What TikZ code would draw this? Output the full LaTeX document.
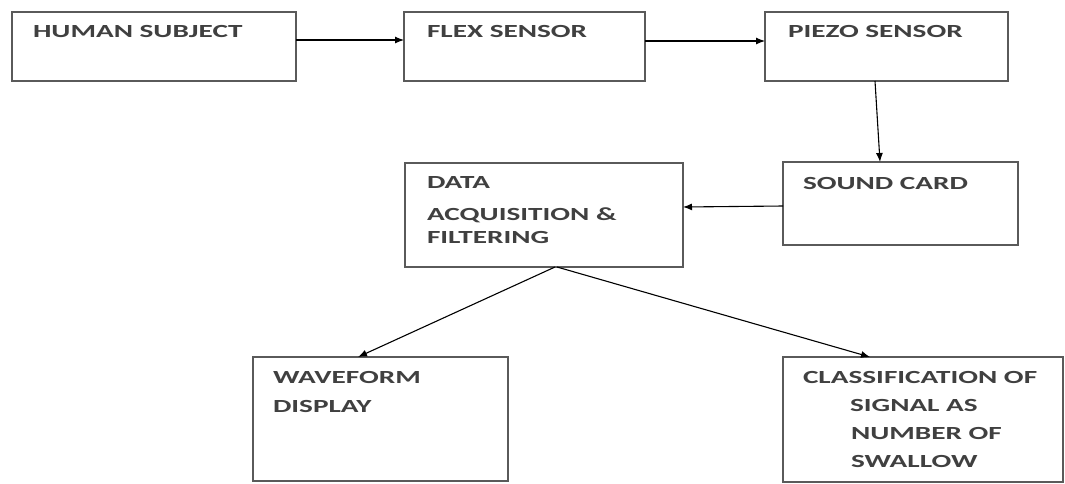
\documentclass[tikz,border=0pt]{standalone}
\usepackage{fontspec}
\setmainfont{Carlito}[FakeStretch=1.58]
\usetikzlibrary{arrows.meta}
\definecolor{boxline}{HTML}{5A5A5A}
\definecolor{txt}{HTML}{404040}
\tikzset{
  blk/.style={draw=boxline, line width=1.5pt, rectangle, inner sep=0pt, outer sep=0pt, fill=white},
  lbl/.style={anchor=base west, inner sep=0pt, outer sep=0pt, text=txt, font=\bfseries\fontsize{18.5}{22}\selectfont},
  arr/.style={draw=black, line width=1.1pt, -{Latex[length=9pt,width=7pt]}}
}
\begin{document}
\begin{tikzpicture}[x=1pt,y=-1pt]
\useasboundingbox (0,0) rectangle (1065,483);
% boxes
\node[blk, minimum width=284pt, minimum height=69pt] (hs) at (154,46.5) {};
\node[blk, minimum width=241pt, minimum height=69pt] (fs) at (524.5,46.5) {};
\node[blk, minimum width=243pt, minimum height=69pt] (pz) at (886.5,46.5) {};
\node[blk, minimum width=235pt, minimum height=83pt] (sc) at (900.5,203.5) {};
\node[blk, minimum width=278pt, minimum height=104pt] (da) at (544,215) {};
\node[blk, minimum width=255pt, minimum height=124pt] (wv) at (380.5,419) {};
\node[blk, minimum width=280pt, minimum height=125pt] (cl) at (923,419.5) {};
% texts
\node[lbl] (ths) at (33,37) {HUMAN SUBJECT};
\node[lbl] (tfs) at (427,37) {FLEX SENSOR};
\node[lbl] (tpz) at (788,37) {PIEZO SENSOR};
\node[lbl] (tsc) at (803,189) {SOUND CARD};
\node[lbl] (tda1) at (427,188) {DATA};
\node[lbl] (tda2) at (427,220) {ACQUISITION \&};
\node[lbl] (tda3) at (427,243) {FILTERING};
\node[lbl] (twv1) at (273,383) {WAVEFORM};
\node[lbl] (twv2) at (273,412) {DISPLAY};
\node[lbl] (tcl1) at (803,383) {CLASSIFICATION OF};
\node[lbl] (tcl2) at (850,411) {SIGNAL AS};
\node[lbl] (tcl3) at (851,439) {NUMBER OF};
\node[lbl] (tcl4) at (851,467) {SWALLOW};
% connectors
\draw[arr] ([yshift=6.5pt]hs.east) -- ([yshift=6.5pt]fs.west);
\draw[arr] ([yshift=5.5pt]fs.east) -- ([yshift=5.5pt]pz.west);
\draw[arr] ([xshift=-11.5pt]pz.south) -- ([xshift=-20.5pt]sc.north);
\draw[arr] ([yshift=-2.5pt]sc.west) -- ([yshift=8pt]da.east);
\draw[arr] ([xshift=11pt]da.south) -- ([xshift=-22.5pt]wv.north);
\draw[arr] ([xshift=13pt]da.south) -- ([xshift=-53pt]cl.north);
\end{tikzpicture}
\end{document}
